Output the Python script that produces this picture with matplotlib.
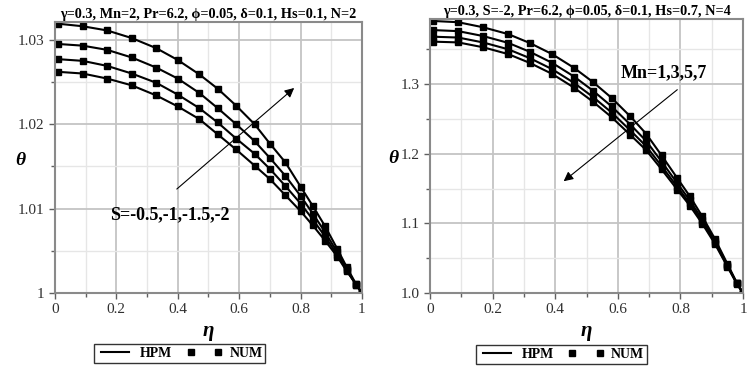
import matplotlib
matplotlib.use('Agg')
import matplotlib.pyplot as plt
from matplotlib.ticker import MultipleLocator
from matplotlib.lines import Line2D

plt.rcParams['font.family'] = ['Liberation Serif', 'DejaVu Serif']

# ---- left panel: S = -0.5, -1, -1.5, -2 ----
eta_left = [0.01, 0.09, 0.17, 0.25, 0.33, 0.40, 0.47, 0.53, 0.59, 0.65,
            0.70, 0.75, 0.80, 0.84, 0.88, 0.92, 0.95, 0.98, 1.0]
theta_s2 = [1.0319, 1.0316, 1.0311, 1.0302, 1.0290, 1.0276, 1.0259, 1.0242, 1.0222, 1.0200,
            1.0177, 1.0155, 1.0126, 1.0103, 1.0079, 1.0052, 1.0031, 1.0011, 1.0]
theta_s15 = [1.0295, 1.0293, 1.0288, 1.0279, 1.0267, 1.0254, 1.0237, 1.0219, 1.0200, 1.0180,
             1.0160, 1.0139, 1.0115, 1.0094, 1.0072, 1.0048, 1.0029, 1.0010, 1.0]
theta_s1 = [1.0277, 1.0275, 1.0269, 1.0260, 1.0249, 1.0235, 1.0219, 1.0202, 1.0183, 1.0165,
            1.0147, 1.0127, 1.0106, 1.0087, 1.0067, 1.0045, 1.0027, 1.0010, 1.0]
theta_s05 = [1.0262, 1.0260, 1.0254, 1.0246, 1.0234, 1.0221, 1.0206, 1.0188, 1.0170, 1.0151,
             1.0135, 1.0116, 1.0097, 1.0080, 1.0062, 1.0043, 1.0026, 1.0011, 1.0]

# ---- right panel: Mn = 1, 3, 5, 7 ----
eta_right = [0.01, 0.09, 0.17, 0.25, 0.32, 0.39, 0.46, 0.52, 0.58, 0.64,
             0.69, 0.74, 0.79, 0.83, 0.87, 0.91, 0.95, 0.98, 1.0]
theta_mn1 = [1.3907, 1.3889, 1.3816, 1.3718, 1.3588, 1.3431, 1.3234, 1.3032, 1.2803, 1.2536,
             1.2290, 1.1975, 1.1650, 1.1390, 1.1100, 1.0780, 1.0420, 1.0150, 1.0]
theta_mn3 = [1.3776, 1.3761, 1.3690, 1.3592, 1.3462, 1.3306, 1.3109, 1.2908, 1.2681, 1.2419,
             1.2187, 1.1887, 1.1577, 1.1331, 1.1054, 1.0748, 1.0402, 1.0143, 1.0]
theta_mn5 = [1.3681, 1.3669, 1.3598, 1.3500, 1.3371, 1.3215, 1.3018, 1.2818, 1.2593, 1.2335,
             1.2111, 1.1823, 1.1525, 1.1287, 1.1020, 1.0725, 1.0390, 1.0139, 1.0]
theta_mn7 = [1.3610, 1.3599, 1.3529, 1.3431, 1.3302, 1.3147, 1.2950, 1.2750, 1.2526, 1.2271,
             1.2055, 1.1775, 1.1485, 1.1255, 1.0995, 1.0708, 1.0380, 1.0135, 1.0]

left_title = 'γ=0.3, Mn=2, Pr=6.2, ϕ=0.05, δ=0.1, Hs=0.1, N=2'
right_title = 'γ=0.3, S=-2, Pr=6.2, ϕ=0.05, δ=0.1, Hs=0.7, N=4'


def style_axes(ax, ymajor, yminor, ylim, yfmt):
    ax.set_xlim(0, 1)
    ax.set_ylim(*ylim)
    ax.xaxis.set_major_locator(MultipleLocator(0.2))
    ax.xaxis.set_minor_locator(MultipleLocator(0.1))
    ax.yaxis.set_major_locator(MultipleLocator(ymajor))
    ax.yaxis.set_minor_locator(MultipleLocator(yminor))
    ax.xaxis.set_major_formatter(lambda v, p: '%g' % round(v, 2))
    ax.yaxis.set_major_formatter(yfmt)
    ax.grid(which='major', color='#c4c4c4', lw=1.3)
    ax.grid(which='minor', color='#e6e6e6', lw=1.0)
    ax.set_axisbelow(True)
    for s in ax.spines.values():
        s.set_color('#8a8a8a')
        s.set_linewidth(1.5)
    ax.tick_params(which='both', direction='out', color='#606060', labelsize=11,
                   labelcolor='#303030', length=4, width=1)
    ax.tick_params(which='minor', length=3)
    ax.set_xlabel('η', fontsize=15, fontweight='bold', fontstyle='italic', labelpad=3)


def draw(ax, eta, curves):
    for th in curves:
        ax.plot(eta, th, color='black', lw=1.5)
        ax.plot(eta, th, ls='none', marker='s', ms=4, color='black')


fig = plt.figure(figsize=(7.48, 3.70), dpi=100)

ax1 = fig.add_axes([0.0735, 0.2081, 0.4104, 0.7324])
draw(ax1, eta_left, [theta_s2, theta_s15, theta_s1, theta_s05])
style_axes(ax1, 0.01, 0.005, (1.0, 1.0321), lambda v, p: '%g' % round(v, 3))
ax1.set_title(left_title, fontsize=10.3, fontweight='bold', pad=3)
ax1.set_ylabel('θ', fontsize=14, fontweight='bold', fontstyle='italic', rotation=0,
               va='center', ha='center')
ax1.yaxis.set_label_coords(-0.114, 0.49)
ax1.annotate('', xy=(0.786, 1.0245), xytext=(0.39, 1.0121),
             arrowprops=dict(arrowstyle='-|>', color='black', lw=0.8, mutation_scale=14))
ax1.text(0.18, 1.0093, 'S=-0.5,-1,-1.5,-2', fontsize=13, fontweight='bold', va='center')

ax2 = fig.add_axes([0.5749, 0.2081, 0.4184, 0.7405])
draw(ax2, eta_right, [theta_mn1, theta_mn3, theta_mn5, theta_mn7])
style_axes(ax2, 0.1, 0.05, (1.0, 1.3935), lambda v, p: '%.1f' % v)
ax2.set_title(right_title, fontsize=10.3, fontweight='bold', pad=3)
ax2.set_ylabel('θ', fontsize=14, fontweight='bold', fontstyle='italic', rotation=0,
               va='center', ha='center')
ax2.yaxis.set_label_coords(-0.118, 0.49)
ax2.annotate('', xy=(0.42, 1.158), xytext=(0.797, 1.2945),
             arrowprops=dict(arrowstyle='-|>', color='black', lw=0.8, mutation_scale=14))
ax2.text(0.61, 1.316, 'Mn=1,3,5,7', fontsize=13, fontweight='bold', va='center')

handles = [Line2D([], [], color='black', lw=1.5),
           Line2D([], [], ls='none', marker='s', ms=4.5, color='black')]
for ax, cx in ((ax1, 0.407), (ax2, 0.42)):
    leg = ax.legend(handles, ['HPM', 'NUM'], loc='upper center', bbox_to_anchor=(cx, -0.19),
                    ncol=2, numpoints=2, frameon=True, fancybox=False, handlelength=2.6,
                    columnspacing=1.0, borderpad=0.2, handletextpad=0.5,
                    borderaxespad=0.0, prop={'weight': 'bold', 'size': 10})
    leg.get_frame().set_edgecolor('black')
    leg.get_frame().set_linewidth(1.0)

fig.savefig('out.png', dpi=100)
